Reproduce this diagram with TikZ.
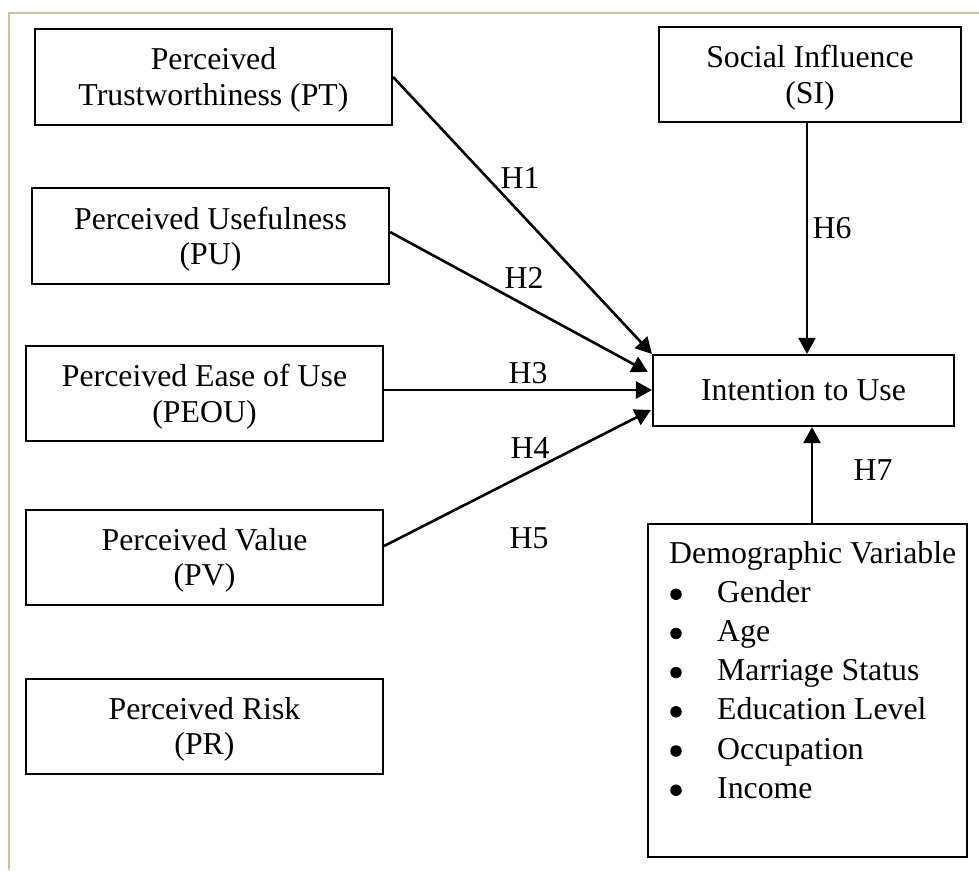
\documentclass[tikz,border=0pt]{standalone}
\usepackage{fontspec}
\setmainfont{Liberation Serif}
\usetikzlibrary{arrows.meta,calc}
\definecolor{framecol}{RGB}{200,194,158}
\begin{document}
\begin{tikzpicture}[x=1pt,y=-1pt,
  every node/.style={font=\fontsize{31.8}{35.5}\selectfont, inner sep=0pt},
  box/.style={draw, line width=2.2pt, rectangle, align=center,
              minimum width=357pt, minimum height=96pt},
  boxtext/.style={yshift=-3pt},
  link/.style={line width=2.6pt, -{Triangle[length=16pt,width=17pt]}},
  bul/.style={circle, fill, minimum size=11.5pt, inner sep=0pt}]
\useasboundingbox (0,0) rectangle (979,870);

% page frame
\draw[framecol, line width=2pt] (979,12.5) -- (8.5,12.5) -- (8.5,870);

% constructs on the left
\node[box] (PT)   at (213.5,77)    {};
\node[box] (PU)   at (210.5,236)   {};
\node[box, minimum height=95pt] (PEOU) at (204.5,393.5) {};
\node[box, minimum height=95pt] (PV)   at (204.5,557.5) {};
\node[box, minimum height=95pt] (PR)   at (204.5,726.5) {};
\node[align=center, boxtext] (PTt)   at (PT)   {Perceived\\Trustworthiness (PT)};
\node[align=center, boxtext] (PUt)   at (PU)   {Perceived Usefulness\\(PU)};
\node[align=center, boxtext] (PEOUt) at (PEOU) {Perceived Ease of Use\\(PEOU)};
\node[align=center, boxtext] (PVt)   at (PV)   {Perceived Value\\(PV)};
\node[align=center, boxtext] (PRt)   at (PR)   {Perceived Risk\\(PR)};

% right column
\node[box, minimum width=302pt, minimum height=95pt] (SI) at (810,74.5) {};
\node[align=center, boxtext] (SIt) at (SI) {Social Influence\\(SI)};
\node[box, minimum width=301pt, minimum height=71pt] (IU) at (803.5,390.5) {Intention to Use};
\node[box, minimum width=319pt, minimum height=333pt] (DV) at (807.5,690.5) {};

% demographic variables list
\node[anchor=base west] (dvt) at (669,563) {Demographic Variable};
\foreach \i/\t in {1/Gender,2/Age,3/Marriage Status,4/Education Level,5/Occupation,6/Income}{
  \node[anchor=base west] (it\i) at (717,{563+39.2*\i}) {\t};
  \node[bul] (b\i) at (676,{563+39.2*\i-8}) {};
}

% hypothesised paths
\draw[link] (PT.east) -- (IU.north west);
\draw[link] ([yshift=4pt]PU.east) -- ([xshift=-4pt,yshift=18.5pt]IU.west);
\draw[link] ([yshift=3.5pt]PEOU.east) -- ([yshift=0.5pt]IU.west);
\draw[link] ([yshift=11.5pt]PV.east) -- ([xshift=-1pt,yshift=-19.5pt]IU.west);
\draw[link] ([xshift=-3pt]SI.south) -- ([xshift=3.5pt]IU.north);
\draw[link] ([xshift=4.5pt]DV.north) -- ([xshift=8.5pt]IU.south);

% path labels
\node (h1) at (520,178) {H1};
\node (h2) at (524,278) {H2};
\node (h3) at (528,373) {H3};
\node (h4) at (530,448) {H4};
\node (h5) at (529,538) {H5};
\node (h6) at (832,228) {H6};
\node (h7) at (873,470) {H7};
\end{tikzpicture}
\end{document}
